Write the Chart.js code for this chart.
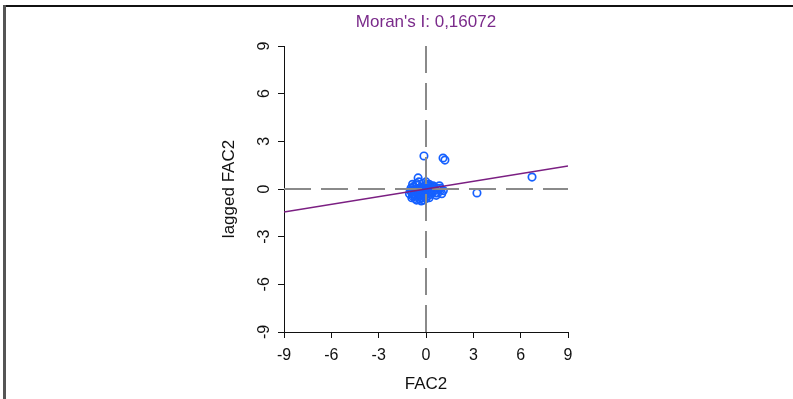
<!DOCTYPE html>
<html>
<head>
<meta charset="utf-8">
<script src="https://cdn.jsdelivr.net/npm/chart.js@4.4.0/dist/chart.umd.min.js"></script>
<style>
html,body{margin:0;padding:0;background:#fff;}
#wrap{width:793px;height:399px;position:relative;}
</style>
</head>
<body>
<div id="wrap"><canvas id="c" width="793" height="399"></canvas></div>
<script>
const title = "Moran's I: 0,16072";
const moranI = 0.16072;
const xLabel = "FAC2";
const yLabel = "lagged FAC2";
const tickValues = [-9, -6, -3, 0, 3, 6, 9];

const fac2 = [-0.13, 1.08, 1.20, 3.23, 6.72, -0.50, -0.45, -0.20, -0.95, -1.05, -0.85, -0.70, -0.60, -0.40, -0.30, -0.15, 0.00, 0.10, 0.25, 0.40, 0.55, 0.70, 0.85, 0.95, 1.10, 0.75, 0.35, 0.15, -0.10, -0.35, -0.55, -0.80, -0.95, -0.65, -0.25, 0.05, 0.30, 0.50, 0.65, -0.45, -0.75, -0.15, 0.20, 0.45, 0.90, -0.90, -0.30, 0.00, -0.60, 1.00, -0.85, -0.50, -0.20, 0.15, -0.70, -0.35, 0.60, -1.00, -0.55, 0.05, -0.80, -0.65, -0.40, -0.25, -0.05, 0.20, -0.90, -0.60, -0.30, -0.10, 0.40, -0.75, -0.45, -0.15, 0.10];
const laggedFac2 = [2.08, 1.95, 1.82, -0.25, 0.75, 0.70, 0.45, 0.35, 0.05, -0.30, -0.45, -0.60, -0.70, -0.65, -0.55, -0.70, -0.60, -0.45, -0.35, -0.20, -0.10, 0.05, 0.20, -0.05, -0.10, -0.25, 0.10, 0.20, 0.15, 0.10, 0.25, 0.15, -0.15, -0.20, -0.25, -0.05, -0.15, 0.10, -0.40, -0.10, -0.05, -0.35, 0.30, 0.20, 0.05, -0.55, -0.75, 0.45, 0.35, -0.30, 0.30, -0.50, 0.00, -0.25, -0.20, -0.35, -0.25, -0.10, 0.00, 0.30, -0.35, -0.40, -0.30, -0.45, -0.40, -0.55, -0.20, -0.15, -0.10, -0.25, 0.00, 0.10, 0.05, 0.00, 0.15];

const points = fac2.map((x, i) => ({x: x, y: laggedFac2[i]}));
const lo = tickValues[0], hi = tickValues[tickValues.length - 1];
const FONT = '"Liberation Sans", Arial, sans-serif';

const decor = {
  id: 'decor',
  afterDraw(chart) {
    const ctx = chart.ctx, ca = chart.chartArea;
    const ys = chart.scales.y;
    ctx.save();
    // frame
    ctx.fillStyle = '#111';
    ctx.fillRect(3, 5, 790, 2);
    ctx.fillStyle = '#555';
    ctx.fillRect(3, 5, 3, 394);
    // title
    ctx.fillStyle = '#7a2a8a';
    ctx.font = '17px ' + FONT;
    ctx.textAlign = 'center';
    ctx.textBaseline = 'middle';
    ctx.fillText(title, (ca.left + ca.right) / 2, 22);
    // y tick labels rotated
    ctx.fillStyle = '#111';
    ctx.font = '16px ' + FONT;
    tickValues.forEach(v => {
      const py = ys.getPixelForValue(v);
      ctx.save();
      ctx.translate(265, py);
      ctx.rotate(-Math.PI / 2);
      ctx.fillText(String(v), 0, 0);
      ctx.restore();
    });
    // y title
    ctx.font = '17px ' + FONT;
    ctx.save();
    ctx.translate(229, (ca.top + ca.bottom) / 2);
    ctx.rotate(-Math.PI / 2);
    ctx.fillText(yLabel, 0, 0);
    ctx.restore();
    // x title
    ctx.fillText(xLabel, (ca.left + ca.right) / 2, 384);
    ctx.restore();
  }
};

new Chart(document.getElementById('c'), {
  type: 'scatter',
  data: {
    datasets: [
      {
        type: 'line',
        data: [{x: lo, y: moranI * lo}, {x: hi, y: moranI * hi}],
        borderColor: '#7b1f82',
        borderWidth: 1.6,
        pointRadius: 0,
        order: 0
      },
      {
        type: 'line',
        data: [{x: lo, y: 0}, {x: hi, y: 0}],
        borderColor: '#8a8a8a',
        borderWidth: 2,
        borderDash: [27, 10],
        pointRadius: 0,
        order: 1
      },
      {
        type: 'line',
        data: [{x: 0, y: lo}, {x: 0, y: hi}],
        borderColor: '#8a8a8a',
        borderWidth: 2,
        borderDash: [27, 10],
        pointRadius: 0,
        order: 1
      },
      {
        data: points,
        pointStyle: 'circle',
        pointRadius: 3.7,
        pointBorderWidth: 1.7,
        pointBorderColor: '#1560ff',
        pointBackgroundColor: 'rgba(0,0,0,0)',
        borderColor: '#1560ff',
        backgroundColor: 'rgba(0,0,0,0)',
        order: 2
      }
    ]
  },
  options: {
    responsive: false,
    animation: false,
    layout: {padding: {top: 46, left: 0, right: 225, bottom: 0}},
    plugins: {legend: {display: false}, tooltip: {enabled: false}, title: {display: false}},
    scales: {
      x: {
        type: 'linear',
        min: lo, max: hi,
        afterBuildTicks(scale) { scale.ticks = tickValues.map(v => ({value: v})); },
        afterFit(scale) { scale.height = 67; },
        grid: {display: true, drawOnChartArea: false, drawTicks: true, tickLength: 6, color: '#111', lineWidth: 1},
        border: {display: true, color: '#111', width: 1},
        ticks: {color: '#111', font: {family: FONT, size: 16}, padding: 8, maxRotation: 0}
      },
      y: {
        type: 'linear',
        min: lo, max: hi,
        afterBuildTicks(scale) { scale.ticks = tickValues.map(v => ({value: v})); },
        afterFit(scale) { scale.width = 284; },
        grid: {display: true, drawOnChartArea: false, drawTicks: true, tickLength: 6, color: '#111', lineWidth: 1},
        border: {display: true, color: '#111', width: 1},
        ticks: {color: 'rgba(0,0,0,0)', font: {size: 12}}
      }
    }
  },
  plugins: [decor]
});
</script>
</body>
</html>
